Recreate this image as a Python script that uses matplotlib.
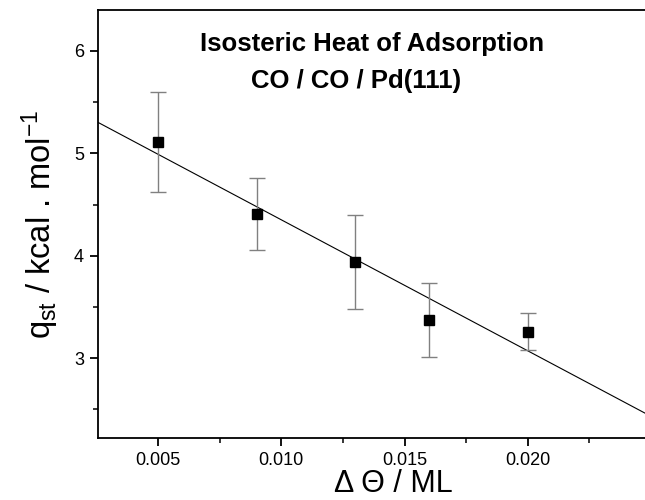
import numpy as np
import matplotlib
matplotlib.use('Agg')
import matplotlib.pyplot as plt
from matplotlib.ticker import MultipleLocator

plt.rcParams['font.family'] = ['Liberation Sans', 'DejaVu Sans']
plt.rcParams['mathtext.fontset'] = 'custom'
plt.rcParams['mathtext.rm'] = 'Liberation Sans'
plt.rcParams['mathtext.it'] = 'Liberation Sans:italic'

# data
coverage = [0.005, 0.009, 0.013, 0.016, 0.020]
q_st = [5.11, 4.41, 3.94, 3.37, 3.26]
q_err = [0.49, 0.35, 0.46, 0.36, 0.185]
x_ticks = [0.005, 0.010, 0.015, 0.020]

# linear fit through the points
slope, intercept = np.polyfit(coverage, q_st, 1)
x_fit = np.array([0.0, 0.03])

fig = plt.figure(figsize=(6.45, 5.0), dpi=100)
ax = fig.add_axes([98 / 645, 62 / 500, 590 / 645, 428 / 500])

ax.plot(x_fit, slope * x_fit + intercept, color='black', lw=0.8)

eb = ax.errorbar(coverage, q_st, yerr=q_err, fmt='s', color='black',
                 ms=7, ecolor='0.5', elinewidth=1.0, capsize=6, capthick=1.0)
for cap in eb[1]:
    cap.set_color('0.15')

ax.set_xlim(0.00256, 0.0265)
ax.set_ylim(2.22, 6.40)

ax.set_xticks(x_ticks)
ax.set_xticklabels([f'{v:.3f}' for v in x_ticks])
ax.xaxis.set_minor_locator(MultipleLocator(0.0025))
ax.yaxis.set_major_locator(MultipleLocator(1))
ax.yaxis.set_minor_locator(MultipleLocator(0.5))
ax.yaxis.set_major_formatter(plt.FuncFormatter(lambda v, p: f'{v:.0f}'))

ax.tick_params(which='major', direction='out', length=6, width=1.3,
               labelsize=13, pad=4)
ax.tick_params(which='minor', direction='out', length=3.5, width=1.1)
for s in ax.spines.values():
    s.set_linewidth(1.3)
ax.spines['right'].set_visible(False)

ax.set_xlabel('\u0394 \u0398 / ML', fontsize=22)
ax.set_ylabel(r'q$_{\mathrm{st}}$ / kcal . mol$^{\mathrm{-1}}$', fontsize=23.5, labelpad=9)
ax.xaxis.set_label_coords((393 - 98) / 590, -0.072)

fig.text(372 / 645, 1 - 44 / 500, 'Isosteric Heat of Adsorption', fontsize=18.5,
         fontweight='bold', ha='center', va='center')
fig.text(356 / 645, 1 - 81 / 500, 'CO / CO / Pd(111)', fontsize=18.5,
         fontweight='bold', ha='center', va='center')

fig.savefig('out.png', dpi=100)
